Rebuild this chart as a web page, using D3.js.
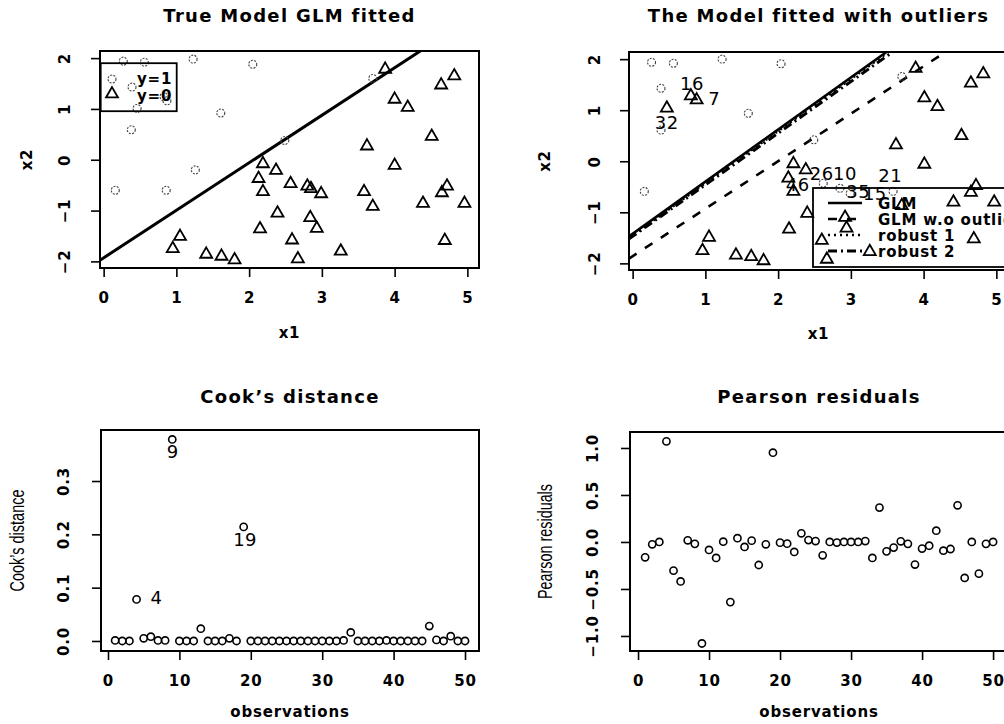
<!DOCTYPE html>
<html>
<head>
<meta charset="utf-8">
<script src="https://cdn.jsdelivr.net/npm/d3@7"></script>
<style>
body { margin: 0; background: #fff; }
text { font-family: "DejaVu Sans", sans-serif; fill: #000; }
.title { font-size: 18px; font-weight: bold; letter-spacing: 1.3px; }
.tick text, .lab, .leg { font-size: 15px; font-weight: bold; letter-spacing: 0.8px; }
.ylab { font-family: "Liberation Sans", sans-serif; font-size: 20px; }
.num { font-size: 18px; letter-spacing: 0.5px; }
.tick line { stroke: #000; stroke-width: 1.6px; }
</style>
</head>
<body>
<svg id="fig" width="1004" height="724"></svg>
<script>
// ---- top left: true model, y = 1 (circles) and y = 0 (triangles)
var trueX1 = [0.27, 0.56, 1.23, 2.05, 0.39, 0.83, 0.87, 0.46, 1.61, 0.38, 3.70, 2.49, 1.26, 0.16, 0.86,
  3.87, 4.82, 4.64, 4.00, 4.18, 4.51, 3.62, 4.00, 2.19, 2.37, 2.13, 2.19, 2.57, 2.80, 2.85, 2.99, 3.58, 3.70,
  4.72, 4.65, 4.39, 4.96, 2.39, 2.84, 2.93, 2.15, 1.05, 0.95, 2.59, 4.69, 3.26, 1.41, 1.62, 1.80, 2.67];
var trueX2 = [1.94, 1.92, 1.98, 1.88, 1.43, 1.24, 1.16, 1.01, 0.92, 0.59, 1.60, 0.38, -0.20, -0.60, -0.60,
  1.78, 1.65, 1.47, 1.19, 1.03, 0.46, 0.27, -0.11, -0.08, -0.21, -0.37, -0.63, -0.47, -0.52, -0.57, -0.67, -0.63, -0.92,
  -0.52, -0.65, -0.86, -0.86, -1.05, -1.14, -1.35, -1.36, -1.51, -1.75, -1.58, -1.59, -1.80, -1.86, -1.90, -1.97, -1.95];
var trueY = [1, 1, 1, 1, 1, 1, 1, 1, 1, 1, 1, 1, 1, 1, 1,
  0, 0, 0, 0, 0, 0, 0, 0, 0, 0, 0, 0, 0, 0, 0, 0, 0, 0,
  0, 0, 0, 0, 0, 0, 0, 0, 0, 0, 0, 0, 0, 0, 0, 0, 0];
var trueIntercept = -1.93, trueSlope = 0.935;

// ---- top right: data with outliers
var outX1 = [0.26, 0.56, 1.23, 2.04, 0.39, 1.59, 0.39, 2.49, 0.16, 3.70, 2.62, 2.85, 2.99, 3.58,
  0.80, 0.88, 0.47, 3.89, 4.82, 4.65, 4.01, 4.19, 4.52, 3.62, 4.01, 2.21, 2.38, 2.14, 2.21, 4.72, 4.65,
  4.41, 4.97, 3.70, 2.40, 2.92, 2.94, 2.15, 1.05, 0.96, 2.60, 4.69, 3.26, 1.42, 1.63, 1.80, 2.67];
var outX2 = [1.94, 1.92, 2.00, 1.91, 1.43, 0.94, 0.61, 0.42, -0.59, 1.66, -0.43, -0.53, -0.63, -0.59,
  1.28, 1.20, 1.04, 1.82, 1.71, 1.53, 1.24, 1.07, 0.50, 0.32, -0.06, -0.05, -0.17, -0.33, -0.59, -0.48, -0.61,
  -0.80, -0.80, -0.87, -1.02, -1.10, -1.31, -1.33, -1.49, -1.75, -1.55, -1.52, -1.77, -1.84, -1.87, -1.95, -1.92];
var outY = [1, 1, 1, 1, 1, 1, 1, 1, 1, 1, 1, 1, 1, 1,
  0, 0, 0, 0, 0, 0, 0, 0, 0, 0, 0, 0, 0, 0, 0, 0, 0,
  0, 0, 0, 0, 0, 0, 0, 0, 0, 0, 0, 0, 0, 0, 0, 0];
var outLabels = ["16", "7", "32", "26", "10", "46", "35", "21", "15"];
var outLabelX1 = [0.815, 1.12, 0.47, 2.60, 2.92, 2.27, 3.10, 3.54, 3.33];
var outLabelX2 = [1.53, 1.22, 0.75, -0.24, -0.24, -0.45, -0.59, -0.27, -0.63];
var fitNames = ["GLM", "GLM w.o outliers", "robust 1", "robust 2"];
var fitIntercepts = [-1.42, -1.86, -1.45, -1.47];
var fitSlopes = [1.02, 0.93, 1.02, 1.01];

// ---- bottom: diagnostics by observation
var obs = d3.range(1, 51);
var cooksD = [0.001, 0, 0, 0.078, 0.005, 0.008, 0.001, 0.001, 0.378, 0,
  0, 0, 0.023, 0, 0, 0, 0.005, 0, 0.214, 0,
  0, 0, 0, 0, 0, 0, 0, 0, 0, 0,
  0, 0, 0.001, 0.016, 0, 0, 0, 0, 0.001, 0,
  0, 0, 0, 0, 0.028, 0.002, 0, 0.009, 0, 0];
var cookLabels = ["9", "19", "4"];
var cookLabelObs = [9.05, 19.2, 6.8];
var cookLabelVal = [0.355, 0.19, 0.081];
var pearsonRes = [-0.163, -0.025, 0.0, 1.07, -0.305, -0.42, 0.018, -0.02, -1.08, -0.085,
  -0.17, 0.003, -0.64, 0.04, -0.053, 0.014, -0.245, -0.025, 0.95, -0.007,
  -0.018, -0.106, 0.092, 0.02, 0.01, -0.142, 0.0, -0.006, 0.0, 0.0,
  0.0, 0.01, -0.17, 0.365, -0.1, -0.06, 0.007, -0.02, -0.24, -0.07,
  -0.04, 0.12, -0.093, -0.075, 0.39, -0.383, 0.0, -0.337, -0.02, 0.0];

var svg = d3.select("#fig");
var defs = svg.append("defs");
var tri = d3.symbol().type(d3.symbolTriangle).size(62);

function makePanel(p) {
  var x = d3.scaleLinear().domain(p.xDom).range([p.left, p.right]);
  var y = d3.scaleLinear().domain(p.yDom).range([p.bottom, p.top]);
  var g = svg.append("g");

  defs.append("clipPath").attr("id", p.id)
    .append("rect")
    .attr("x", p.left).attr("y", p.top)
    .attr("width", p.right - p.left).attr("height", p.bottom - p.top);

  var xa = g.append("g")
    .attr("transform", "translate(0," + p.bottom + ")")
    .call(d3.axisBottom(x).tickValues(p.xTicks).tickSize(9).tickSizeOuter(0).tickPadding(15).tickFormat(d3.format("d")));
  xa.select(".domain").remove();

  var ya = g.append("g")
    .attr("transform", "translate(" + p.left + ",0)")
    .call(d3.axisLeft(y).tickValues(p.yTicks).tickSize(9).tickSizeOuter(0).tickFormat(d3.format(p.yFmt)));
  ya.select(".domain").remove();
  ya.selectAll("text")
    .attr("x", null)
    .attr("dy", "0.36em")
    .attr("text-anchor", "middle")
    .attr("transform", "translate(" + (-p.yTickOff) + ",0) rotate(-90)");

  g.append("text").attr("class", "title")
    .attr("x", (p.left + p.right) / 2).attr("y", p.titleY)
    .attr("text-anchor", "middle").text(p.title);
  g.append("text").attr("class", "lab")
    .attr("x", (p.left + p.right) / 2).attr("y", p.bottom + p.xLabOff)
    .attr("text-anchor", "middle").text(p.xLabel);
  var yl = g.append("text").attr("class", p.yLabClass)
    .attr("text-anchor", "middle").attr("dy", "0.36em")
    .attr("transform", "translate(" + p.yLabX + "," + ((p.top + p.bottom) / 2) + ") rotate(-90)")
    .text(p.yLabel);
  // narrow face of the original: squeeze to its width
  if (p.yLabLen) yl.attr("textLength", p.yLabLen).attr("lengthAdjust", "spacingAndGlyphs");

  var plot = g.append("g");
  g.append("rect")
    .attr("x", p.left).attr("y", p.top)
    .attr("width", p.right - p.left).attr("height", p.bottom - p.top)
    .attr("fill", "none").attr("stroke", "#000").attr("stroke-width", 2);

  return { x: x, y: y, g: plot, p: p };
}

function drawClasses(panel, xs, ys, cls) {
  var pts = xs.map(function (d, i) { return { x1: d, x2: ys[i], y: cls[i] }; });
  panel.g.selectAll(".c").data(pts.filter(function (d) { return d.y === 1; }))
    .enter().append("circle")
    .attr("cx", function (d) { return panel.x(d.x1); })
    .attr("cy", function (d) { return panel.y(d.x2); })
    .attr("r", 4)
    .attr("fill", "none").attr("stroke", "#444").attr("stroke-width", 1.1)
    .attr("stroke-dasharray", "2,1.3");
  panel.g.selectAll(".t").data(pts.filter(function (d) { return d.y === 0; }))
    .enter().append("path")
    .attr("d", tri)
    .attr("transform", function (d) { return "translate(" + panel.x(d.x1) + "," + panel.y(d.x2) + ")"; })
    .attr("fill", "none").attr("stroke", "#000").attr("stroke-width", 1.8);
}

function abline(panel, a, b, width, dash) {
  var d0 = panel.x.domain();
  panel.g.append("line")
    .attr("clip-path", "url(#" + panel.p.id + ")")
    .attr("x1", panel.x(d0[0])).attr("y1", panel.y(a + b * d0[0]))
    .attr("x2", panel.x(d0[1])).attr("y2", panel.y(a + b * d0[1]))
    .attr("stroke", "#000").attr("stroke-width", width)
    .attr("stroke-dasharray", dash);
}

// ---------- panel 1
var p1 = makePanel({
  id: "c1", left: 100, right: 479, top: 51, bottom: 268,
  xDom: [-0.05, 5.16], yDom: [-2.13, 2.14],
  xTicks: [0, 1, 2, 3, 4, 5], yTicks: [-2, -1, 0, 1, 2], yFmt: "d",
  yTickOff: 35, title: "True Model GLM fitted", titleY: 22,
  xLabel: "x1", xLabOff: 70, yLabel: "x2", yLabX: 27, yLabClass: "lab"
});
abline(p1, trueIntercept, trueSlope, 3, null);
drawClasses(p1, trueX1, trueX2, trueY);

// legend (top left)
var lg1 = p1.g.append("g");
lg1.append("rect")
  .attr("x", p1.x(-0.05) + 0.7).attr("y", p1.y(1.9))
  .attr("width", 76).attr("height", 48)
  .attr("fill", "none").attr("stroke", "#000").attr("stroke-width", 1.8);
lg1.append("circle").attr("cx", 112).attr("cy", 79).attr("r", 4)
  .attr("fill", "none").attr("stroke", "#444").attr("stroke-width", 1.1).attr("stroke-dasharray", "2,1.3");
lg1.append("path").attr("d", tri).attr("transform", "translate(112,94)")
  .attr("fill", "none").attr("stroke", "#000").attr("stroke-width", 1.8);
lg1.append("text").attr("class", "leg").attr("x", 137).attr("y", 84).text("y=1");
lg1.append("text").attr("class", "leg").attr("x", 137).attr("y", 101).text("y=0");

// ---------- panel 2
var p2 = makePanel({
  id: "c2", left: 629, right: 1008, top: 52, bottom: 270,
  xDom: [-0.05, 5.16], yDom: [-2.13, 2.14],
  xTicks: [0, 1, 2, 3, 4, 5], yTicks: [-2, -1, 0, 1, 2], yFmt: "d",
  yTickOff: 34, title: "The Model fitted with outliers", titleY: 22,
  xLabel: "x1", xLabOff: 69, yLabel: "x2", yLabX: 545, yLabClass: "lab"
});
var fitWidth = [2.6, 2.6, 2.4, 3];
var fitDash = [null, "9,10", "2,4", "9,4,2,4"];
fitNames.forEach(function (n, i) {
  abline(p2, fitIntercepts[i], fitSlopes[i], fitWidth[i], fitDash[i]);
});
drawClasses(p2, outX1, outX2, outY);
p2.g.selectAll(".num").data(outLabels).enter().append("text")
  .attr("class", "num").attr("text-anchor", "middle").attr("dy", "0.36em")
  .attr("x", function (d, i) { return p2.x(outLabelX1[i]); })
  .attr("y", function (d, i) { return p2.y(outLabelX2[i]); })
  .text(function (d) { return d; });

// legend (top right)
var lg2 = p2.g.append("g");
lg2.append("rect").attr("x", 813).attr("y", 188).attr("width", 200).attr("height", 79)
  .attr("fill", "none").attr("stroke", "#000").attr("stroke-width", 1.8);
fitNames.forEach(function (n, i) {
  var yy = 203 + i * 16;
  lg2.append("line").attr("x1", 828).attr("x2", 862).attr("y1", yy).attr("y2", yy)
    .attr("stroke", "#000").attr("stroke-width", fitWidth[i]).attr("stroke-dasharray", fitDash[i]);
  lg2.append("text").attr("class", "leg").attr("x", 878).attr("y", yy + 5.5).text(n);
});

// ---------- panel 3
var p3 = makePanel({
  id: "c3", left: 101, right: 479, top: 430, bottom: 651,
  xDom: [-0.98, 51.96], yDom: [-0.0188, 0.3957],
  xTicks: [0, 10, 20, 30, 40, 50], yTicks: [0, 0.1, 0.2, 0.3], yFmt: ".1f",
  yTickOff: 37, title: "Cook\u2019s distance", titleY: 403,
  xLabel: "observations", xLabOff: 66, yLabel: "Cook\u2019s distance", yLabX: 17,
  yLabClass: "ylab", yLabLen: 102
});
p3.g.selectAll("circle").data(obs).enter().append("circle")
  .attr("cx", function (d) { return p3.x(d); })
  .attr("cy", function (d, i) { return p3.y(cooksD[i]); })
  .attr("r", 3.6).attr("fill", "none").attr("stroke", "#000").attr("stroke-width", 1.6);
p3.g.selectAll(".num").data(cookLabels).enter().append("text")
  .attr("class", "num").attr("text-anchor", "middle").attr("dy", "0.36em")
  .attr("x", function (d, i) { return p3.x(cookLabelObs[i]); })
  .attr("y", function (d, i) { return p3.y(cookLabelVal[i]); })
  .text(function (d) { return d; });

// ---------- panel 4
var p4 = makePanel({
  id: "c4", left: 630, right: 1008, top: 432, bottom: 651,
  xDom: [-1.13, 52.1], yDom: [-1.16, 1.17],
  xTicks: [0, 10, 20, 30, 40, 50], yTicks: [-1, -0.5, 0, 0.5, 1], yFmt: ".1f",
  yTickOff: 37, title: "Pearson residuals", titleY: 403,
  xLabel: "observations", xLabOff: 66, yLabel: "Pearson residuals", yLabX: 545,
  yLabClass: "ylab", yLabLen: 115
});
p4.g.selectAll("circle").data(obs).enter().append("circle")
  .attr("cx", function (d) { return p4.x(d); })
  .attr("cy", function (d, i) { return p4.y(pearsonRes[i]); })
  .attr("r", 3.6).attr("fill", "none").attr("stroke", "#000").attr("stroke-width", 1.6);
</script>
</body>
</html>
